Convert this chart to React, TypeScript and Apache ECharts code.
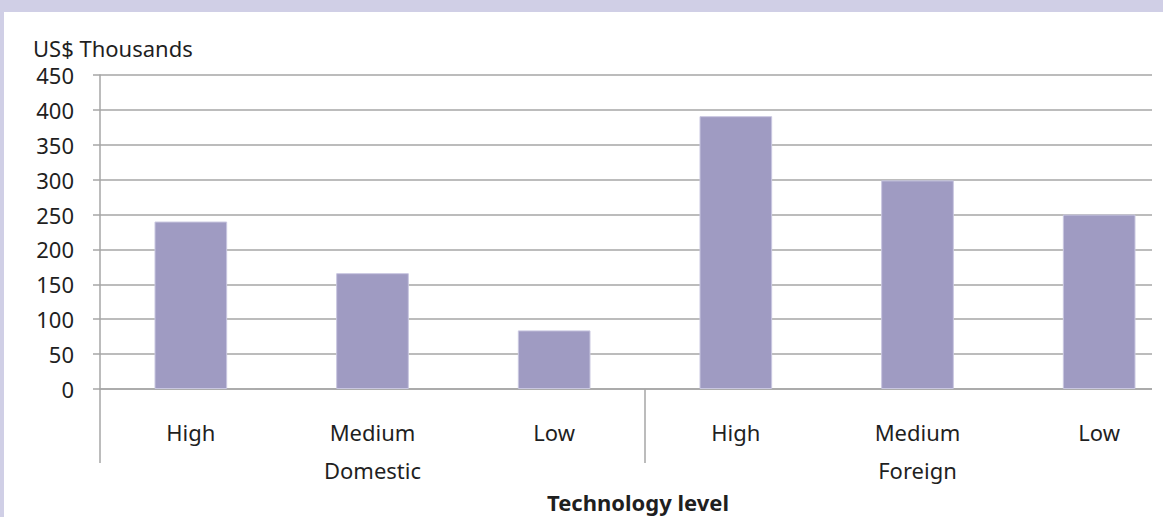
import React, { useEffect, useRef } from "react";
import * as echarts from "echarts";

const categories = ["High", "Medium", "Low", "High", "Medium", "Low"];
const groups = ["Domestic", "Foreign"];
const values = [240, 166, 84, 391, 299, 250];
const yTicks = { min: 0, max: 450, interval: 50 };

const FONT = "'Noto Sans', 'Open Sans', sans-serif";
const GRID = "#a6a6a6";
const TEXT = "#1f1f1f";

export default function App() {
  const ref = useRef<HTMLDivElement>(null);
  useEffect(() => {
    document.body.style.margin = "0";
    if (!ref.current) return;
    const chart = echarts.init(ref.current, undefined, { renderer: "svg" });
    chart.setOption({
      animation: false,
      backgroundColor: "#ffffff",
      textStyle: { fontFamily: FONT },
      title: {
        text: "US$ Thousands",
        left: 28,
        top: 32,
        textStyle: { fontFamily: FONT, fontSize: 22, fontWeight: "normal", color: TEXT },
      },
      grid: {
        left: 100,
        top: 75,
        right: -27,
        bottom: 128,
        containLabel: false,
        outerBoundsMode: "none",
      },
      xAxis: [
        {
          type: "category",
          data: categories,
          position: "bottom",
          axisLine: { show: true, lineStyle: { color: GRID, width: 1.5 } },
          axisTick: {
            show: true,
            alignWithLabel: false,
            interval: (i: number) => i % 3 === 0,
            length: 74,
            lineStyle: { color: GRID, width: 1.5 },
          },
          axisLabel: { interval: 0, margin: 32, fontSize: 22, color: TEXT, fontFamily: FONT },
          splitLine: { show: false },
        },
        {
          type: "category",
          data: groups,
          position: "bottom",
          offset: 0,
          axisLine: { show: false },
          axisTick: { show: false },
          axisLabel: { interval: 0, margin: 70, fontSize: 22, color: TEXT, fontFamily: FONT },
          name: "Technology level",
          nameLocation: "middle",
          nameGap: 102,
          nameTextStyle: {
            fontSize: 22,
            fontWeight: "bold",
            color: TEXT,
            fontFamily: FONT,
            padding: [0, 14, 0, 0],
          },
        },
      ],
      yAxis: {
        type: "value",
        min: yTicks.min,
        max: yTicks.max,
        interval: yTicks.interval,
        axisLine: { show: true, lineStyle: { color: GRID, width: 1.5 } },
        axisTick: { show: true, length: 7, lineStyle: { color: GRID, width: 1.5 } },
        axisLabel: { margin: 26, fontSize: 22, color: TEXT, fontFamily: FONT },
        splitLine: { show: true, lineStyle: { color: GRID, width: 1.5 } },
      },
      series: [
        {
          type: "bar",
          data: values,
          xAxisIndex: 0,
          barWidth: "40%",
          itemStyle: { color: "#9f9bc2", borderColor: "#c9c7e0", borderWidth: 1 },
        },
      ],
      graphic: [
        { type: "rect", left: 1152, top: 12, shape: { width: 11, height: 505 }, style: { fill: "#ffffff" }, z: 100 },
        { type: "rect", left: 0, top: 0, shape: { width: 1163, height: 12 }, style: { fill: "#d0cfe6" }, z: 101 },
        { type: "rect", left: 0, top: 0, shape: { width: 4, height: 517 }, style: { fill: "#d0cfe6" }, z: 101 },
      ],
    });
    return () => chart.dispose();
  }, []);
  return <div ref={ref} style={{ width: 1163, height: 517 }} />;
}
